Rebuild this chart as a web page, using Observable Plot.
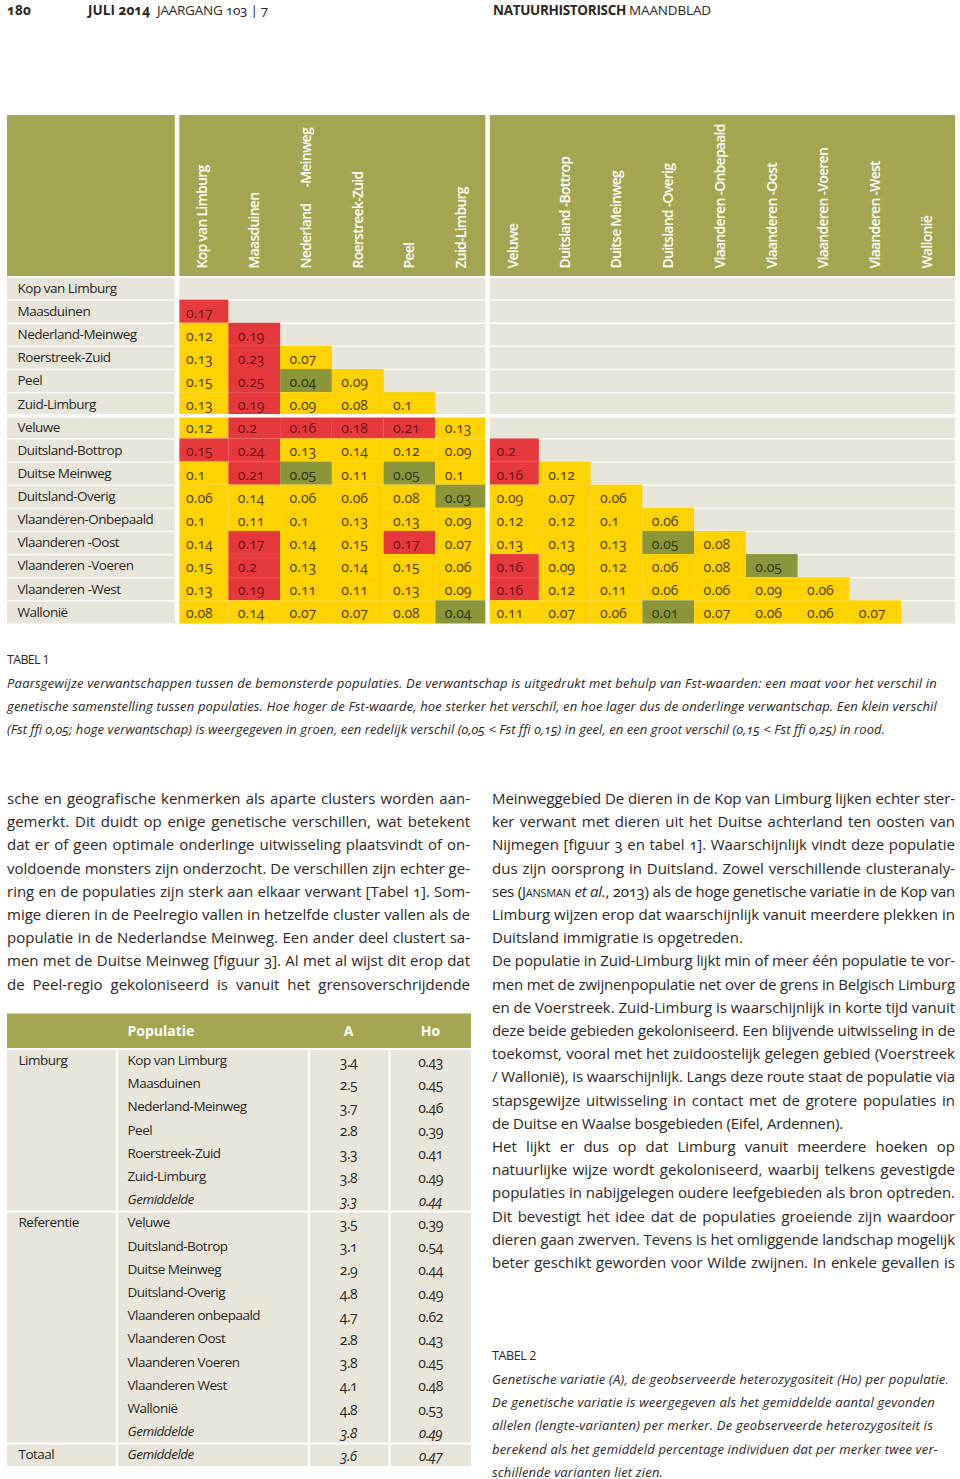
<!DOCTYPE html>
<html><head><meta charset="utf-8">
<script src="https://cdn.jsdelivr.net/npm/d3@7"></script>
<script src="https://cdn.jsdelivr.net/npm/@observablehq/plot@0.6"></script>
<style>
html,body{margin:0;padding:0;background:#fff;}
body{width:960px;height:1479px;position:relative;overflow:hidden;font-family:"Open Sans",sans-serif;color:#2a2623;font-variant-numeric:oldstyle-nums;}
.ln{position:absolute;white-space:nowrap;line-height:20px;}
.body{font-size:15px;}
.cap{font-size:13px;font-style:italic;}
.lbl{font-size:12.5px;font-variant-numeric:lining-nums;}
.hdr{font-size:13.5px;}
.b{font-weight:700;}
.sc{font-variant:small-caps;}
svg{position:absolute;left:0;}
</style></head><body>
<script>
// ---------- DATA ----------
const rowLabels = ["Kop van Limburg","Maasduinen","Nederland-Meinweg","Roerstreek-Zuid","Peel","Zuid-Limburg","Veluwe","Duitsland-Bottrop","Duitse Meinweg","Duitsland-Overig","Vlaanderen-Onbepaald","Vlaanderen -Oost","Vlaanderen -Voeren","Vlaanderen -West","Wallonië"];
const colLabels = ["Kop van Limburg","Maasduinen","Nederland\u2003 -Meinweg","Roerstreek-Zuid","Peel","Zuid-Limburg","Veluwe","Duitsland -Bottrop","Duitse Meinweg","Duitsland -Overig","Vlaanderen -Onbepaald","Vlaanderen -Oost","Vlaanderen -Voeren","Vlaanderen -West","Wallonië"];
const fstRows = [
  [],
  [0.17],
  [0.12,0.19],
  [0.13,0.23,0.07],
  [0.15,0.25,0.04,0.09],
  [0.13,0.19,0.09,0.08,0.1],
  [0.12,0.2,0.16,0.18,0.21,0.13],
  [0.15,0.24,0.13,0.14,0.12,0.09,0.2],
  [0.1,0.21,0.05,0.11,0.05,0.1,0.16,0.12],
  [0.06,0.14,0.06,0.06,0.08,0.03,0.09,0.07,0.06],
  [0.1,0.11,0.1,0.13,0.13,0.09,0.12,0.12,0.1,0.06],
  [0.14,0.17,0.14,0.15,0.17,0.07,0.13,0.13,0.13,0.05,0.08],
  [0.15,0.2,0.13,0.14,0.15,0.06,0.16,0.09,0.12,0.06,0.08,0.05],
  [0.13,0.19,0.11,0.11,0.13,0.09,0.16,0.12,0.11,0.06,0.06,0.09,0.06],
  [0.08,0.14,0.07,0.07,0.08,0.04,0.11,0.07,0.06,0.01,0.07,0.06,0.06,0.07]
];
// colour class per cell as printed: g = groen, y = geel, r = rood
const fstClass = [
  "",
  "r",
  "yr",
  "yry",
  "yrgy",
  "yryyy",
  "yrrrry",
  "rryyyyr",
  "yrgygyry",
  "yyyyygyyy",
  "yyyyyyyyyy",
  "yryyryyyygy",
  "yryyyyryyyyg",
  "yryyyyryyyyyy",
  "yyyyygyyygyyyy"
];

const t2Group = ["Limburg","Limburg","Limburg","Limburg","Limburg","Limburg","Limburg","Referentie","Referentie","Referentie","Referentie","Referentie","Referentie","Referentie","Referentie","Referentie","Referentie","Totaal"];
const t2Pop = ["Kop van Limburg","Maasduinen","Nederland-Meinweg","Peel","Roerstreek-Zuid","Zuid-Limburg","Gemiddelde","Veluwe","Duitsland-Botrop","Duitse Meinweg","Duitsland-Overig","Vlaanderen onbepaald","Vlaanderen Oost","Vlaanderen Voeren","Vlaanderen West","Wallonië","Gemiddelde","Gemiddelde"];
const t2A  = [3.4,2.5,3.7,2.8,3.3,3.8,3.3,3.5,3.1,2.9,4.8,4.7,2.8,3.8,4.1,4.8,3.8,3.6];
const t2Ho = [0.43,0.45,0.46,0.39,0.41,0.49,0.44,0.39,0.54,0.44,0.49,0.62,0.43,0.45,0.48,0.53,0.49,0.47];
const t2Head = ["Populatie","A","Ho"];

// ---------- STYLE ----------
const OLIVE = "#a3a550", BEIGE = "#e8e6db", RED = "#e6393e", YELLOW = "#ffd300", GREEN = "#8b963a";
const TXT = "#2a2623";
const FONT = "'Open Sans', sans-serif";

// ---------- TEXT LINES ----------
const LH = 20;
const fits = [];
function line(x, y, html, cls, w, justify) {
  const d = document.createElement("div");
  d.className = "ln " + cls;
  d.style.left = x + "px";
  d.style.top = (y - LH/2) + "px";
  d.innerHTML = html;
  document.body.appendChild(d);
  if (w) fits.push({d, w, justify});
}
function fitAll() {
  for (const f of fits) {
    const d = f.d;
    const n = d.textContent.length;
    const spaces = (d.textContent.match(/ /g) || []).length;
    for (let k = 0; k < 4; k++) {
      const nat = d.getBoundingClientRect().width;
      const diff = f.w - nat;
      if (Math.abs(diff) < 0.3) break;
      if (diff > 0 && f.justify && spaces) {
        const ws = parseFloat(d.style.wordSpacing) || 0;
        d.style.wordSpacing = (ws + diff / spaces) + "px";
      } else {
        const ls = parseFloat(d.style.letterSpacing) || 0;
        d.style.letterSpacing = (ls + diff / n) + "px";
      }
    }
  }
}

// running header
line(7, 10, "180", "hdr b", 24);
line(88, 10, "JULI 2014", "hdr b", 62);
line(157, 10, "JAARGANG 103 | 7", "hdr", 111);
line(493, 10, "NATUURHISTORISCH", "hdr b", 133);
line(629, 10, "MAANDBLAD", "hdr", 82);

// Tabel 1 caption
line(7, 660, "TABEL 1", "lbl", 42);
const cap1 = [
  ["Paarsgewijze verwantschappen tussen de bemonsterde populaties. De verwantschap is uitgedrukt met behulp van Fst-waarden: een maat voor het verschil in", 930],
  ["genetische samenstelling tussen populaties. Hoe hoger de Fst-waarde, hoe sterker het verschil, en hoe lager dus de onderlinge verwantschap. Een klein verschil", 930],
  ["(Fst ffi 0,05; hoge verwantschap) is weergegeven in groen, een redelijk verschil (0,05 &lt; Fst ffi 0,15) in geel, en een groot verschil (0,15 &lt; Fst ffi 0,25) in rood.", 878]
];
cap1.forEach(([t, w], i) => line(7, 683 + i * 23.2, t, "cap", w));

// left column
const leftCol = [
  "sche en geografische kenmerken als aparte clusters worden aan-",
  "gemerkt. Dit duidt op enige genetische verschillen, wat betekent",
  "dat er of geen optimale onderlinge uitwisseling plaatsvindt of on-",
  "voldoende monsters zijn onderzocht. De verschillen zijn echter ge-",
  "ring en de populaties zijn sterk aan elkaar verwant [Tabel 1]. Som-",
  "mige dieren in de Peelregio vallen in hetzelfde cluster vallen als de",
  "populatie in de Nederlandse Meinweg. Een ander deel clustert sa-",
  "men met de Duitse Meinweg [figuur 3]. Al met al wijst dit erop dat",
  "de Peel-regio gekoloniseerd is vanuit het grensoverschrijdende"
];
leftCol.forEach((t, i) => line(7, 798 + i * 23.2, t, "body", 463, true));

// right column
const rightCol = [
  ["Meinweggebied De dieren in de Kop van Limburg lijken echter ster-"],
  ["ker verwant met dieren uit het Duitse achterland ten oosten van"],
  ["Nijmegen [figuur 3 en tabel 1]. Waarschijnlijk vindt deze populatie"],
  ["dus zijn oorsprong in Duitsland. Zowel verschillende clusteranaly-"],
  ["ses (<span class='sc'>Jansman</span> <i>et al.</i>, 2013) als de hoge genetische variatie in de Kop van"],
  ["Limburg wijzen erop dat waarschijnlijk vanuit meerdere plekken in"],
  ["Duitsland immigratie is opgetreden.", 251],
  ["De populatie in Zuid-Limburg lijkt min of meer één populatie te vor-"],
  ["men met de zwijnenpopulatie net over de grens in Belgisch Limburg"],
  ["en de Voerstreek. Zuid-Limburg is waarschijnlijk in korte tijd vanuit"],
  ["deze beide gebieden gekoloniseerd. Een blijvende uitwisseling in de"],
  ["toekomst, vooral met het zuidoostelijk gelegen gebied (Voerstreek"],
  ["/ Wallonië), is waarschijnlijk. Langs deze route staat de populatie via"],
  ["stapsgewijze uitwisseling in contact met de grotere populaties in"],
  ["de Duitse en Waalse bosgebieden (Eifel, Ardennen).", 351],
  ["Het lijkt er dus op dat Limburg vanuit meerdere hoeken op"],
  ["natuurlijke wijze wordt gekoloniseerd, waarbij telkens gevestigde"],
  ["populaties in nabijgelegen oudere leefgebieden als bron optreden."],
  ["Dit bevestigt het idee dat de populaties groeiende zijn waardoor"],
  ["dieren gaan zwerven. Tevens is het omliggende landschap mogelijk"],
  ["beter geschikt geworden voor Wilde zwijnen. In enkele gevallen is"]
];
rightCol.forEach(([t, w], i) => line(492, 798 + i * 23.2, t, "body", w || 463, !w));

// Tabel 2 caption
line(492, 1356, "TABEL 2", "lbl", 44);
const cap2 = [
  ["Genetische variatie (A), de geobserveerde heterozygositeit (Ho) per populatie.", 457],
  ["De genetische variatie is weergegeven als het gemiddelde aantal gevonden", 443],
  ["allelen (lengte-varianten) per merker. De geobserveerde heterozygositeit is", 441],
  ["berekend als het gemiddeld percentage individuen dat per merker twee ver-", 446],
  ["schillende varianten liet zien.", 171]
];
cap2.forEach(([t, w], i) => line(492, 1379 + i * 23.2, t, "cap", w));

fitAll();

function spacing(svg, selector, ls) {
  svg.querySelectorAll(selector).forEach(g => g.style.letterSpacing = ls + "px");
}

// ---------- TABEL 1 (heatmap) ----------
{
  const SVG_TOP = 110;
  const X0 = 176.6, CW = 51.75;      // first data column left edge, column width (px)
  const Y0 = 276.5 - SVG_TOP, RH = 23.13; // first row top, row height (px)
  const ux = px => (px - X0) / CW;
  const uy = py => (py - SVG_TOP - Y0) / RH;
  const L = ux(7), R = ux(955), HT = uy(115);
  const nCols = colLabels.length, nRows = rowLabels.length;

  const cells = [];
  fstRows.forEach((vals, r) => vals.forEach((v, c) => cells.push({r, c, v, k: fstClass[r][c]})));
  const txtCol = {r: "#6e1218", y: "#4e3b0c", g: "#2c300e"};

  const heat = Plot.plot({
    width: 960, height: 520, margin: 0,
    x: {type: "linear", domain: [0, nCols], range: [X0, X0 + nCols * CW], axis: null},
    y: {type: "linear", domain: [0, nRows], range: [Y0, Y0 + nRows * RH], axis: null},
    color: {type: "ordinal", domain: ["g", "y", "r"], range: [GREEN, YELLOW, RED]},
    style: {fontFamily: FONT, fontVariantNumeric: "oldstyle-nums", background: "transparent", overflow: "visible"},
    marks: [
      Plot.rect([0], {x1: () => L, x2: () => R, y1: () => 0, y2: () => nRows, fill: BEIGE}),
      Plot.rect([0], {x1: () => L, x2: () => R, y1: () => HT, y2: () => 0, fill: OLIVE}),
      Plot.ruleY(d3.range(1, nRows), {x1: () => L, x2: () => R, stroke: "white", strokeWidth: 1.3}),
      Plot.rect(cells, {x1: "c", x2: d => d.c + 1, y1: "r", y2: d => d.r + 1, fill: "k"}),
      Plot.ruleY([0], {x1: () => L, x2: () => R, stroke: "white", strokeWidth: 2}),
      Plot.ruleY([6], {x1: () => L, x2: () => R, stroke: "white", strokeWidth: 3.5}),
      Plot.ruleX([0, 6], {y1: () => HT, y2: () => nRows, stroke: "white", strokeWidth: 4.5}),
      Plot.text(rowLabels, {x: () => ux(17), y: (d, i) => i + 0.5, text: d => d, textAnchor: "start", fontSize: 13.5, fill: TXT}),
      Plot.text(colLabels, {x: (d, i) => i + 0.5, y: () => uy(268), text: d => d, rotate: -90, textAnchor: "start", fill: "white", fontWeight: 600, fontSize: 14}),
      ...["r", "y", "g"].map(k => Plot.text(cells.filter(d => d.k === k), {
        x: "c", y: d => d.r + 0.5, text: d => String(d.v), dx: 9, dy: 1.5,
        textAnchor: "start", fontSize: 14, fill: txtCol[k]
      }))
    ]
  });
  heat.style.top = SVG_TOP + "px";
  document.body.appendChild(heat);
  spacing(heat, 'g[aria-label="text"][fill="white"]', -0.75);
  spacing(heat, 'g[aria-label="text"][fill="' + TXT + '"]', -0.5);
}

// ---------- TABEL 2 ----------
{
  const SVG_TOP = 1010;
  const TX0 = 7, TX1 = 471;           // table left/right (px)
  const Y0 = 1048.5 - SVG_TOP, RH = 23.2;
  const fx = px => (px - TX0) / (TX1 - TX0);
  const uy = py => (py - SVG_TOP - Y0) / RH;
  const n = t2Pop.length;
  const rows = t2Pop.map((p, i) => ({i, g: t2Group[i], p, a: t2A[i], ho: t2Ho[i], it: p === "Gemiddelde"}));
  const groupStarts = rows.filter((d, i) => i === 0 || t2Group[i - 1] !== d.g);
  const colBounds = [fx(116.5), fx(308.5), fx(389)];
  const xGroup = fx(18), xPop = fx(127), xA = fx(348), xHo = fx(430);
  const headX = [xPop, xA, xHo];

  const t2 = Plot.plot({
    width: 480, height: 469, margin: 0,
    x: {type: "linear", domain: [0, 1], range: [TX0, TX1], axis: null},
    y: {type: "linear", domain: [0, n], range: [Y0, Y0 + n * RH], axis: null},
    style: {fontFamily: FONT, fontVariantNumeric: "oldstyle-nums", background: "transparent", overflow: "visible"},
    marks: [
      Plot.rect([0], {x1: () => 0, x2: () => 1, y1: () => uy(1013.5), y2: () => 0, fill: OLIVE}),
      Plot.rect([0], {x1: () => 0, x2: () => 1, y1: () => 0, y2: () => n, fill: BEIGE}),
      Plot.ruleX(colBounds, {y1: () => 0, y2: () => n, stroke: "white", strokeWidth: 2}),
      Plot.ruleY(groupStarts.map(d => d.i), {x1: () => 0, x2: () => 1, stroke: "white", strokeWidth: 2}),
      Plot.text(t2Head.slice(0, 1), {x: () => xPop, y: () => uy(1031), text: d => d, textAnchor: "start", fill: "white", fontWeight: 700, fontSize: 14}),
      Plot.text(t2Head.slice(1), {x: (d, i) => headX[i + 1], y: () => uy(1031), text: d => d, textAnchor: "middle", fill: "white", fontWeight: 700, fontSize: 14}),
      Plot.text(groupStarts, {x: () => xGroup, y: d => d.i + 0.5, text: "g", textAnchor: "start", fontSize: 13.5, fill: TXT}),
      ...[false, true].map(it => Plot.text(rows.filter(d => d.it === it), {x: () => xPop, y: d => d.i + 0.5, text: "p", textAnchor: "start", fontSize: 13.5, fill: TXT, fontStyle: it ? "italic" : "normal"})),
      ...[false, true].map(it => Plot.text(rows.filter(d => d.it === it), {x: () => xA, y: d => d.i + 0.5, text: d => d.a.toFixed(1), dy: 1.5, textAnchor: "middle", fontSize: 14, fill: TXT, fontStyle: it ? "italic" : "normal"})),
      ...[false, true].map(it => Plot.text(rows.filter(d => d.it === it), {x: () => xHo, y: d => d.i + 0.5, text: d => d.ho.toFixed(2), dy: 1.5, textAnchor: "middle", fontSize: 14, fill: TXT, fontStyle: it ? "italic" : "normal"}))
    ]
  });
  t2.style.top = SVG_TOP + "px";
  document.body.appendChild(t2);
  spacing(t2, 'g[aria-label="text"][fill="' + TXT + '"]', -0.5);
}
</script>
</body></html>
